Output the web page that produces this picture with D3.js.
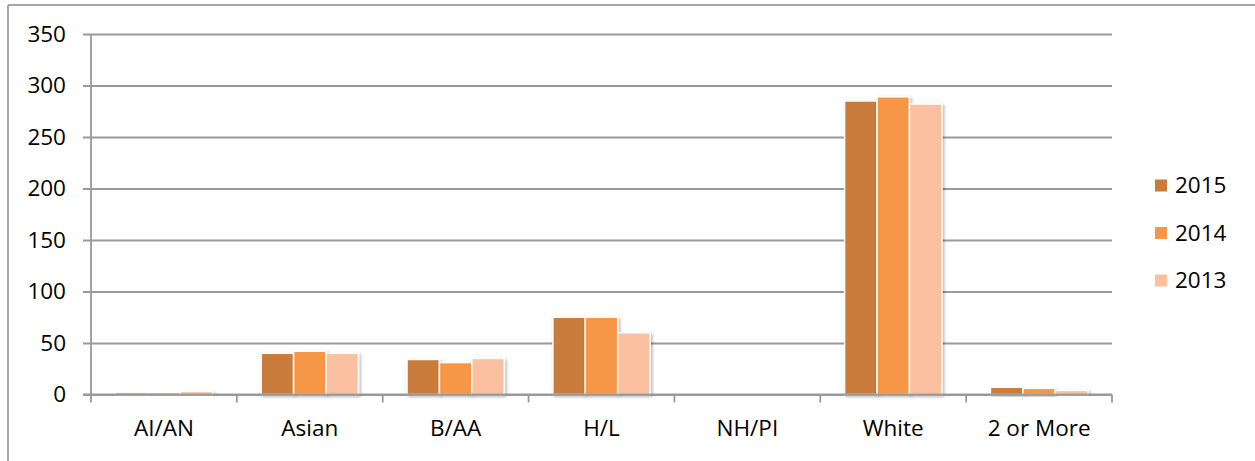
<!DOCTYPE html>
<html><head><meta charset="utf-8">
<script src="https://cdn.jsdelivr.net/npm/d3@7"></script>
<style>body{margin:0;background:#fff}svg{display:block}</style>
</head><body><svg id="c" width="1255" height="461"></svg>
<script>
const categories = ["AI/AN","Asian","B/AA","H/L","NH/PI","White","2 or More"];
const seriesNames = ["2015","2014","2013"];
const values2015 = [2, 40, 34, 75, 0, 285, 7];
const values2014 = [2, 42, 31, 75, 0, 289, 6];
const values2013 = [3, 40, 35, 60, 0, 282, 4];
const yTicks = [0,50,100,150,200,250,300,350];
const colors = ["#C97B3A","#F79646","#FAC09F"];

const series = [values2015, values2014, values2013];
const svg = d3.select("#c");
const font = "'Open Sans', sans-serif";
const fs = 22.5;

const defs = svg.append("defs");
const f = defs.append("filter").attr("id","sh").attr("x","-20%").attr("y","-20%").attr("width","150%").attr("height","150%");
f.append("feDropShadow").attr("dx",1.5).attr("dy",1.5).attr("stdDeviation",1.5).attr("flood-color","#000").attr("flood-opacity",0.3);

// outer frame
svg.append("line").attr("x1",8).attr("x2",1255).attr("y1",5).attr("y2",5).attr("stroke","#8a8a8a").attr("stroke-width",1.5);
svg.append("line").attr("x1",8).attr("x2",8).attr("y1",5).attr("y2",461).attr("stroke","#8a8a8a").attr("stroke-width",1.5);

const x0 = 91, x1 = 1112;
const y = d3.scaleLinear().domain([0,350]).range([394.5,34]);
const x = d3.scaleBand().domain(categories).range([x0,x1]).paddingInner(0).paddingOuter(0);
const xs = d3.scaleBand().domain(seriesNames).range([0, x.bandwidth()]).paddingInner(0).paddingOuter(0.75);

// gridlines + y axis
const yAxis = d3.axisLeft(y).tickValues(yTicks).tickSize(-(x1 - x0)).tickPadding(25).tickFormat(d3.format("d"));
const gy = svg.append("g").attr("transform",`translate(${x0},0)`).call(yAxis);
gy.select(".domain").remove();
gy.selectAll(".tick line").attr("stroke","#999").attr("stroke-width",1.8).attr("x1",-8);
gy.selectAll(".tick text").attr("font-family",font).attr("font-size",fs).attr("fill","#000");
svg.append("line").attr("x1",x0).attr("x2",x0).attr("y1",y(350)).attr("y2",y(0)).attr("stroke","#999").attr("stroke-width",1.8);

// bars
const groups = svg.append("g").selectAll("g").data(categories).join("g")
  .attr("transform", d => `translate(${x(d)},0)`);
groups.selectAll("rect").data((d,i) => seriesNames.map((s,j) => ({s, v: series[j][i], j})))
  .join("rect")
  .attr("x", d => xs(d.s))
  .attr("width", xs.bandwidth())
  .attr("y", d => y(d.v))
  .attr("height", d => y(0) - y(d.v))
  .attr("fill", d => colors[d.j])
  .attr("stroke","#fff").attr("stroke-width",1.5)
  .attr("filter","url(#sh)")
  .style("display", d => d.v > 0 ? null : "none");

// x axis
const xAxis = d3.axisBottom(x).tickSize(0).tickPadding(26);
const gx = svg.append("g").attr("transform",`translate(0,${y(0)})`).call(xAxis);
gx.select(".domain").remove();
gx.selectAll(".tick text").attr("font-family",font).attr("font-size",fs).attr("fill","#000");
svg.append("line").attr("x1",x0-8).attr("x2",x1).attr("y1",y(0)).attr("y2",y(0)).attr("stroke","#999").attr("stroke-width",1.8);
const bounds = categories.map(c => x(c)).concat([x1]);
svg.append("g").selectAll("line").data(bounds).join("line")
  .attr("x1", d => d).attr("x2", d => d).attr("y1", y(0)).attr("y2", y(0)+8)
  .attr("stroke","#999").attr("stroke-width",1.8);

// legend
const lg = svg.append("g").selectAll("g").data(seriesNames).join("g")
  .attr("transform",(d,i) => `translate(1155,${185.5 + i*47.5})`);
lg.append("rect").attr("x",0).attr("y",-6).attr("width",12).attr("height",12)
  .attr("fill",(d,i) => colors[i]);
lg.append("text").attr("x",20).attr("y",0).attr("dy","0.35em")
  .attr("font-family",font).attr("font-size",fs).attr("fill","#000").text(d => d);
</script></body></html>
